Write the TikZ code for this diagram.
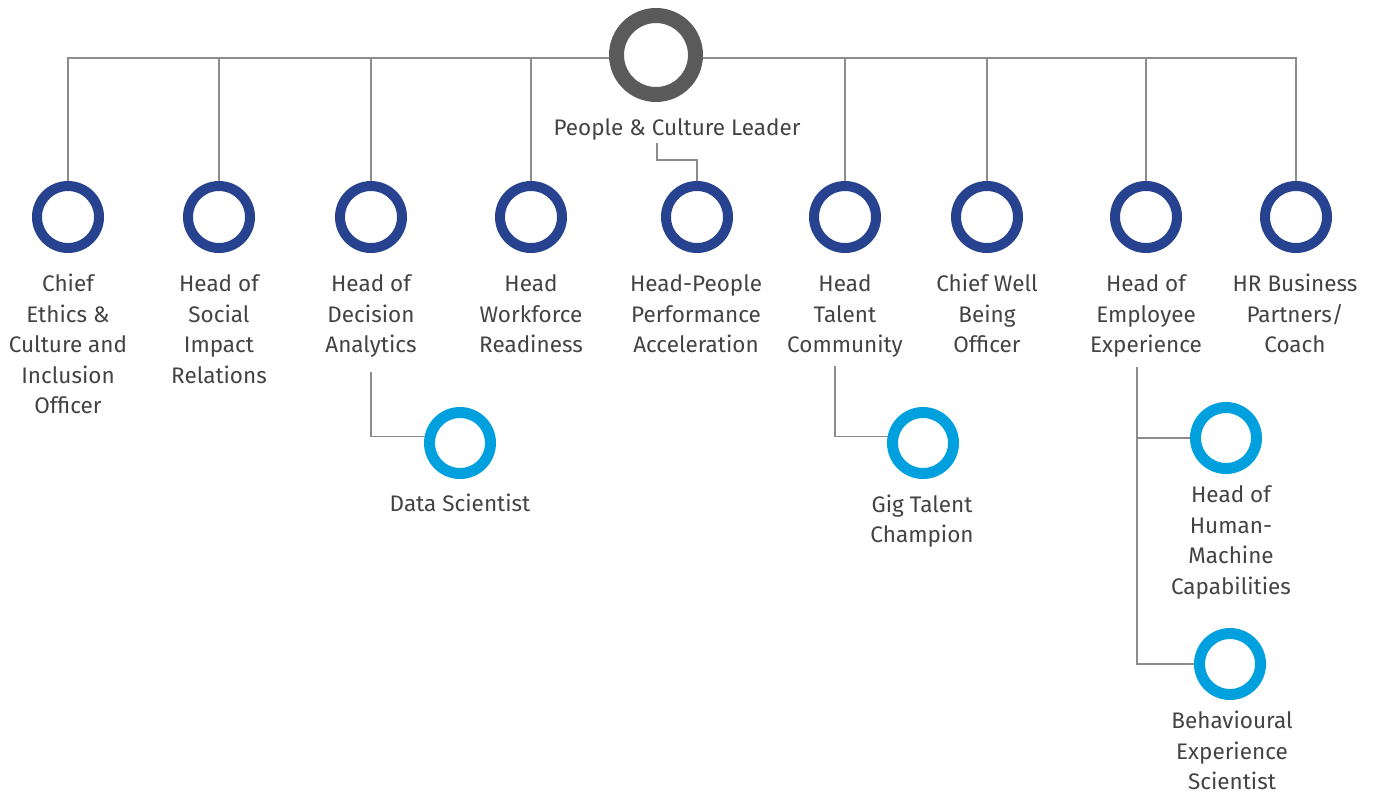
\documentclass[tikz,border=0pt]{standalone}
\usepackage{fontspec}
\setmainfont{Fira Sans}
\definecolor{ringgray}{HTML}{5A5A5A}
\definecolor{ringblue}{HTML}{27428F}
\definecolor{ringlight}{HTML}{00A0DF}
\definecolor{linegray}{HTML}{8C8C8C}
\definecolor{txt}{HTML}{434343}
\begin{document}
\begin{tikzpicture}[x=1pt,y=-1pt,
  lead/.style={circle, draw=ringgray, fill=white, line width=15pt, inner sep=0pt, minimum size=79pt},
  main/.style={circle, draw=ringblue, fill=white, line width=10pt, inner sep=0pt, minimum size=62pt},
  sub/.style={circle, draw=ringlight, fill=white, line width=11pt, inner sep=0pt, minimum size=61pt},
  lbl/.style={anchor=north, align=center, inner sep=0pt, text=txt, font=\fontsize{22.5}{30.5}\selectfont},
  conn/.style={draw=linegray, line width=1.4pt}]
\useasboundingbox (0,0) rectangle (1376,793);
\coordinate (bar) at (0,58);
% main circles
\node[main] (c1) at (68,217) {};
\node[main] (c2) at (219,217) {};
\node[main] (c3) at (371,217) {};
\node[main] (c4) at (531,217) {};
\node[main] (c5) at (697,217) {};
\node[main] (c6) at (845,217) {};
\node[main] (c7) at (987,217) {};
\node[main] (c8) at (1146,217) {};
\node[main] (c9) at (1296,217) {};
% sub circles
\node[sub] (ds) at (460,443) {};
\node[sub] (gig) at (923,443) {};
\node[sub] (hm) at (1226,438) {};
\node[sub] (be) at (1230,664) {};
% top connectors
\draw[conn] (c1.north) -- (c1.north |- bar) -- (c9.north |- bar) -- (c9.north);
\foreach \n in {c2,c3,c4,c6,c7,c8} \draw[conn] (\n.north) -- (\n.north |- bar);
% leader
\node[lead] (lead) at (656,55) {};
% labels
\node[lbl] (tlead) at (677,113.7) {\strut People \& Culture Leader};
\node[lbl] (t1) at (68,270) {\strut Chief\\Ethics \&\\Culture and\\Inclusion\\Officer};
\node[lbl] (t2) at (219,270) {\strut Head of\\Social\\Impact\\Relations};
\node[lbl] (t3) at (371,270) {\strut Head of\\Decision\\Analytics};
\node[lbl] (t4) at (531,270) {\strut Head\\Workforce\\Readiness};
\node[lbl] (t5) at (696,270) {\strut Head-People\\Performance\\Acceleration};
\node[lbl] (t6) at (845,270) {\strut Head\\Talent\\Community};
\node[lbl] (t7) at (987,270) {\strut Chief Well\\Being\\Officer};
\node[lbl] (t8) at (1146,270) {\strut Head of\\Employee\\Experience};
\node[lbl] (t9) at (1295,270) {\strut HR Business\\Partners/\\Coach};
\node[lbl] (tds) at (460,490.3) {\strut Data Scientist};
\node[lbl] (tgig) at (922,490.6) {\strut Gig Talent\\Champion};
\node[lbl] (thm) at (1231,481.3) {\strut Head of\\Human-\\Machine\\Capabilities};
\node[lbl] (tbe) at (1232,707) {\strut Behavioural\\Experience\\Scientist};
% sub connectors
\coordinate (pcs) at (657,143);
\draw[conn] (pcs) -- ++(0,17) -| (c5.north);
\coordinate (dss) at (371,372);
\draw[conn] (dss) |- (ds.170);
\coordinate (gigs) at (835,366);
\draw[conn] (gigs) |- (gig.170);
\coordinate (emps) at (1137,367);
\draw[conn] (emps) |- (hm.west);
\draw[conn] (emps) |- (be.west);
\end{tikzpicture}
\end{document}
